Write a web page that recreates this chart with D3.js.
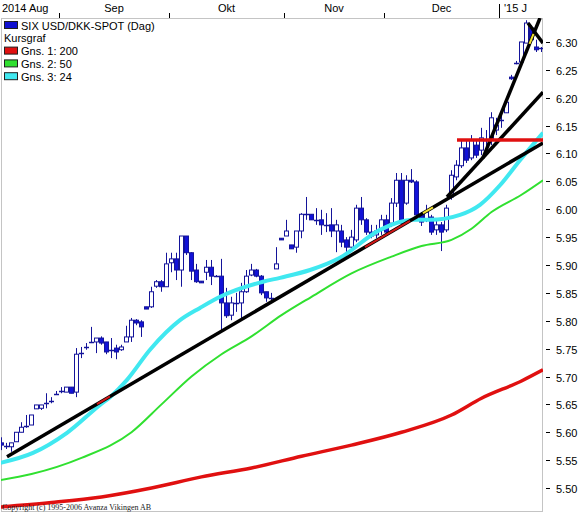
<!DOCTYPE html>
<html>
<head>
<meta charset="utf-8">
<script src="https://cdn.jsdelivr.net/npm/d3@7"></script>
<style>
  body { margin: 0; background: #fff; }
  text { font-family: "Liberation Sans", Arial, sans-serif; font-size: 11px; fill: #000; }
</style>
</head>
<body>
<svg id="chart" width="579" height="514"></svg>
<script>
// trading days (weekdays) shown on the chart
const firstDay = new Date(2014, 7, 14);
const lastDay = new Date(2015, 0, 13);
const monthLabels = ["2014 Aug", "Sep", "Okt", "Nov", "Dec", "'15 J"];
const yTicks = [5.50, 5.55, 5.60, 5.65, 5.70, 5.75, 5.80, 5.85, 5.90, 5.95, 6.00, 6.05, 6.10, 6.15, 6.20, 6.25, 6.30];

// open, high, low, close per trading day
const candles = [
  [5.581,5.591,5.568,5.577],[5.574,5.581,5.570,5.575],[5.574,5.581,5.565,5.581],[5.583,5.600,5.583,5.600],
  [5.600,5.618,5.600,5.609],[5.610,5.631,5.608,5.611],[5.613,5.631,5.613,5.631],[5.642,5.649,5.642,5.649],
  [5.643,5.649,5.640,5.649],[5.652,5.670,5.643,5.653],[5.656,5.663,5.652,5.657],[5.668,5.674,5.667,5.669],
  [5.673,5.681,5.670,5.674],[5.672,5.681,5.672,5.681],[5.681,5.681,5.670,5.670],[5.672,5.751,5.663,5.740],
  [5.742,5.753,5.733,5.743],[5.752,5.760,5.748,5.753],[5.761,5.789,5.760,5.762],[5.762,5.769,5.742,5.769],
  [5.769,5.772,5.757,5.760],[5.762,5.762,5.740,5.744],[5.747,5.769,5.733,5.748],[5.751,5.757,5.731,5.744],
  [5.748,5.757,5.746,5.753],[5.762,5.791,5.762,5.771],[5.771,5.805,5.762,5.801],[5.801,5.803,5.792,5.796],
  [5.798,5.801,5.771,5.789],[5.825,5.825,5.821,5.821],[5.825,5.861,5.823,5.852],[5.862,5.873,5.859,5.870],
  [5.870,5.873,5.852,5.861],[5.861,5.922,5.861,5.902],[5.904,5.922,5.887,5.911],[5.911,5.922,5.873,5.891],
  [5.891,5.952,5.861,5.952],[5.952,5.952,5.918,5.922],[5.922,5.923,5.873,5.889],[5.891,5.902,5.868,5.870],
  [5.871,5.871,5.868,5.868],[5.887,5.909,5.873,5.896],[5.896,5.909,5.864,5.880],[5.882,5.882,5.880,5.880],
  [5.880,5.911,5.783,5.832],[5.832,5.859,5.805,5.809],[5.810,5.843,5.801,5.832],[5.832,5.850,5.816,5.833],
  [5.832,5.868,5.805,5.852],[5.852,5.891,5.850,5.880],[5.882,5.902,5.880,5.891],[5.891,5.893,5.878,5.880],
  [5.880,5.882,5.846,5.850],[5.852,5.852,5.834,5.841],[5.841,5.850,5.834,5.842],[5.893,5.932,5.893,5.902],
  [5.948,5.948,5.945,5.945],[5.952,5.981,5.952,5.961],[5.936,5.936,5.929,5.929],[5.932,5.961,5.922,5.961],
  [5.961,5.993,5.948,5.991],[5.991,6.022,5.981,5.992],[5.991,5.991,5.981,5.981],[5.981,6.002,5.972,5.982],
  [5.981,5.999,5.954,5.972],[5.972,5.993,5.959,5.973],[5.972,6.002,5.950,5.961],[5.961,5.981,5.923,5.972],
  [5.961,5.972,5.932,5.941],[5.945,5.950,5.923,5.932],[5.932,5.963,5.927,5.950],[5.945,6.008,5.941,6.002],
  [6.002,6.022,5.972,5.981],[5.981,5.984,5.954,5.959],[5.959,5.972,5.948,5.952],[5.954,5.972,5.948,5.961],
  [5.963,5.990,5.954,5.981],[5.981,5.990,5.954,5.959],[5.975,6.020,5.968,6.011],[6.011,6.065,6.004,6.052],
  [6.052,6.065,5.972,5.975],[6.011,6.061,6.008,6.052],[6.052,6.072,6.047,6.049],[6.049,6.052,5.986,5.990],
  [5.990,5.995,5.970,5.977],[5.981,6.008,5.977,5.995],[5.986,5.990,5.954,5.959],[5.963,5.981,5.954,5.972],
  [5.972,5.977,5.925,5.959],[5.963,6.008,5.959,6.002],[6.022,6.070,6.017,6.061],[6.058,6.088,6.052,6.079],
  [6.078,6.124,6.074,6.110],[6.110,6.124,6.083,6.088],[6.092,6.133,6.088,6.124],[6.115,6.124,6.092,6.097],
  [6.106,6.146,6.097,6.128],[6.124,6.142,6.106,6.125],[6.124,6.174,6.115,6.164],[6.142,6.164,6.133,6.151],
  [6.160,6.174,6.146,6.161],[6.173,6.201,6.173,6.192],[6.237,6.241,6.232,6.234],[6.264,6.266,6.260,6.262],
  [6.264,6.300,6.264,6.300],[6.298,6.339,6.298,6.334],[6.325,6.330,6.300,6.304],[6.291,6.304,6.282,6.286],
  [6.289,6.291,6.282,6.290]
];

// moving averages as [day index, value]
const ma200 = [[-0.3,5.466],[10,5.474],[20,5.484],[30,5.500],[40,5.520],[50,5.536],[60,5.557],[70,5.577],
  [80,5.600],[90,5.631],[96,5.661],[104,5.692],[108.3,5.712]];
const ma50 = [[-0.3,5.514],[6,5.525],[16,5.554],[26,5.600],[32,5.650],[38,5.700],[44,5.740],[50,5.772],
  [56,5.810],[62,5.843],[70,5.885],[78,5.915],[84,5.934],[90,5.945],[94,5.965],[98,5.995],[104,6.026],[108.3,6.052]];
const ma24 = [[-0.3,5.545],[6.3,5.563],[13.1,5.599],[19.7,5.649],[21.7,5.663],[25.1,5.694],[29.7,5.748],
  [35.7,5.801],[39.7,5.823],[43.7,5.843],[52.3,5.870],[55.7,5.877],[61.7,5.891],[67.7,5.913],[75.7,5.963],
  [82.3,5.981],[85.7,5.981],[91.7,5.990],[95.7,6.008],[99.7,6.043],[103.7,6.088],[108.3,6.137]];

// drawn trend lines: [from index, from price, to index, to price]
const trendLines = [
  [1.1, 5.556, 108.3, 6.119],
  [89.1, 6.022, 108.3, 6.210],
  [96.3, 6.092, 107.7, 6.343],
  [105.3, 6.334, 108.3, 6.298]
];
const resistance = [91.1, 108.3, 6.124];
// highlighted pieces of trend lines: [line number, from index, to index, colour]
const highlights = [[0, 19.1, 21.7, "#d01818"], [0, 72.7, 81.7, "#d01818"], [0, 84.3, 86.3, "#f0e030"], [2, 105.6, 106.4, "#f0e030"]];

const legendItems = [
  { label: "SIX USD/DKK-SPOT (Dag)", color: "#1010d0" },
  { label: "Kursgraf", color: null },
  { label: "Gns. 1: 200", color: "#e01010" },
  { label: "Gns. 2: 50", color: "#30e030" },
  { label: "Gns. 3: 24", color: "#40e8f0" }
];

const svg = d3.select("#chart");
const plot = { left: 1, top: 18, right: 543, bottom: 512 };

const days = d3.timeDay.range(firstDay, d3.timeDay.offset(lastDay, 1)).filter(d => d.getDay() % 6 !== 0);

const x = d3.scaleLinear().domain([-0.3, 108.3]).range([0, 543]);
const y = d3.scaleLinear().domain([5.457, 6.343]).range([plot.bottom, plot.top]);

svg.append("defs").append("clipPath").attr("id", "clip")
  .append("rect").attr("x", plot.left).attr("y", plot.top)
  .attr("width", plot.right - plot.left).attr("height", plot.bottom - plot.top);

// frame
svg.append("rect")
  .attr("x", plot.left + 0.5).attr("y", plot.top + 0.5)
  .attr("width", plot.right - plot.left - 1).attr("height", plot.bottom - plot.top - 1)
  .attr("fill", "#fff").attr("stroke", "#c4c4c4");

// top month axis
const monthStarts = [];
days.forEach((d, i) => {
  if (i > 0 && d.getMonth() !== days[i - 1].getMonth()) monthStarts.push({ i: i - 0.5, year: d.getMonth() === 0 });
});
const topAxis = svg.append("g");
monthStarts.forEach(m => {
  const tx = Math.round(x(m.i)) + 0.5;
  topAxis.append("line")
    .attr("x1", tx).attr("x2", tx)
    .attr("y1", m.year ? 4 : 13).attr("y2", plot.top)
    .attr("stroke", "#000");
});
const bounds = [x.domain()[0]].concat(monthStarts.map(m => m.i));
monthLabels.forEach((lab, k) => {
  const t = topAxis.append("text").attr("y", 12).text(lab);
  if (k === 0) t.attr("x", 2);
  else if (k === monthLabels.length - 1) t.attr("x", x(bounds[k]) + 5);
  else t.attr("x", (x(bounds[k]) + x(bounds[k + 1])) / 2).attr("text-anchor", "middle");
});

// right price axis
const rightAxis = svg.append("g");
yTicks.forEach(v => {
  const ty = Math.round(y(v)) + 0.5;
  rightAxis.append("line").attr("x1", 546).attr("x2", 550).attr("y1", ty).attr("y2", ty).attr("stroke", "#000");
  rightAxis.append("text").attr("x", 556).attr("y", ty + 4).text(v.toFixed(2));
});

const g = svg.append("g").attr("clip-path", "url(#clip)");

// candles
const candleG = g.append("g");
candles.forEach((c, i) => {
  const [o, h, l, cl] = c;
  const cx = Math.round(x(i) - 0.5) + 0.5;
  candleG.append("line")
    .attr("x1", cx).attr("x2", cx)
    .attr("y1", y(h)).attr("y2", y(l))
    .attr("stroke", "#14149a").attr("stroke-width", 1);
  const top = y(Math.max(o, cl)), bot = y(Math.min(o, cl));
  if (bot - top < 1.5) {
    candleG.append("line")
      .attr("x1", cx - 2.5).attr("x2", cx + 2.5)
      .attr("y1", Math.round((top + bot) / 2) + 0.5).attr("y2", Math.round((top + bot) / 2) + 0.5)
      .attr("stroke", "#14149a").attr("stroke-width", 1.5);
  } else {
    candleG.append("rect")
      .attr("x", cx - 2).attr("width", 4)
      .attr("y", top).attr("height", bot - top)
      .attr("fill", cl >= o ? "#fff" : "#1212d8")
      .attr("stroke", "#14149a").attr("stroke-width", 1);
  }
});

// moving averages
const line = d3.line().x(d => x(d[0])).y(d => y(d[1])).curve(d3.curveMonotoneX);
g.append("path").datum(ma200).attr("d", line).attr("fill", "none").attr("stroke", "#e01010").attr("stroke-width", 3.5);
g.append("path").datum(ma50).attr("d", line).attr("fill", "none").attr("stroke", "#30e030").attr("stroke-width", 2);
g.append("path").datum(ma24).attr("d", line).attr("fill", "none").attr("stroke", "#40e8f0").attr("stroke-width", 4);

// trend lines
trendLines.forEach(t => {
  g.append("line")
    .attr("x1", x(t[0])).attr("y1", y(t[1]))
    .attr("x2", x(t[2])).attr("y2", y(t[3]))
    .attr("stroke", "#000").attr("stroke-width", 3.5);
});
highlights.forEach(hl => {
  const t = trendLines[hl[0]];
  const at = i => t[1] + (t[3] - t[1]) * (i - t[0]) / (t[2] - t[0]);
  g.append("line")
    .attr("x1", x(hl[1])).attr("y1", y(at(hl[1])))
    .attr("x2", x(hl[2])).attr("y2", y(at(hl[2])))
    .attr("stroke", hl[3]).attr("stroke-width", 2);
});
g.append("line")
  .attr("x1", x(resistance[0])).attr("x2", x(resistance[1]))
  .attr("y1", y(resistance[2])).attr("y2", y(resistance[2]))
  .attr("stroke", "#e01010").attr("stroke-width", 3.5);

// legend
const legend = svg.append("g").attr("transform", "translate(4,21)");
legendItems.forEach((it, k) => {
  const ry = k * 12.8;
  if (it.color) {
    legend.append("rect").attr("x", 0.5).attr("y", ry + 0.5).attr("width", 13).attr("height", 7)
      .attr("fill", it.color).attr("stroke", "#202020").attr("stroke-width", 1);
  }
  legend.append("text").attr("x", it.color ? 17 : 0).attr("y", ry + 8.5).text(it.label);
});

// copyright
svg.append("text")
  .attr("x", 2).attr("y", 510)
  .style("font-family", "'Liberation Serif', 'Times New Roman', serif")
  .style("font-size", "8px").style("fill", "#222")
  .text("Copyright (c) 1995-2006 Avanza Vikingen AB");
</script>
</body>
</html>
